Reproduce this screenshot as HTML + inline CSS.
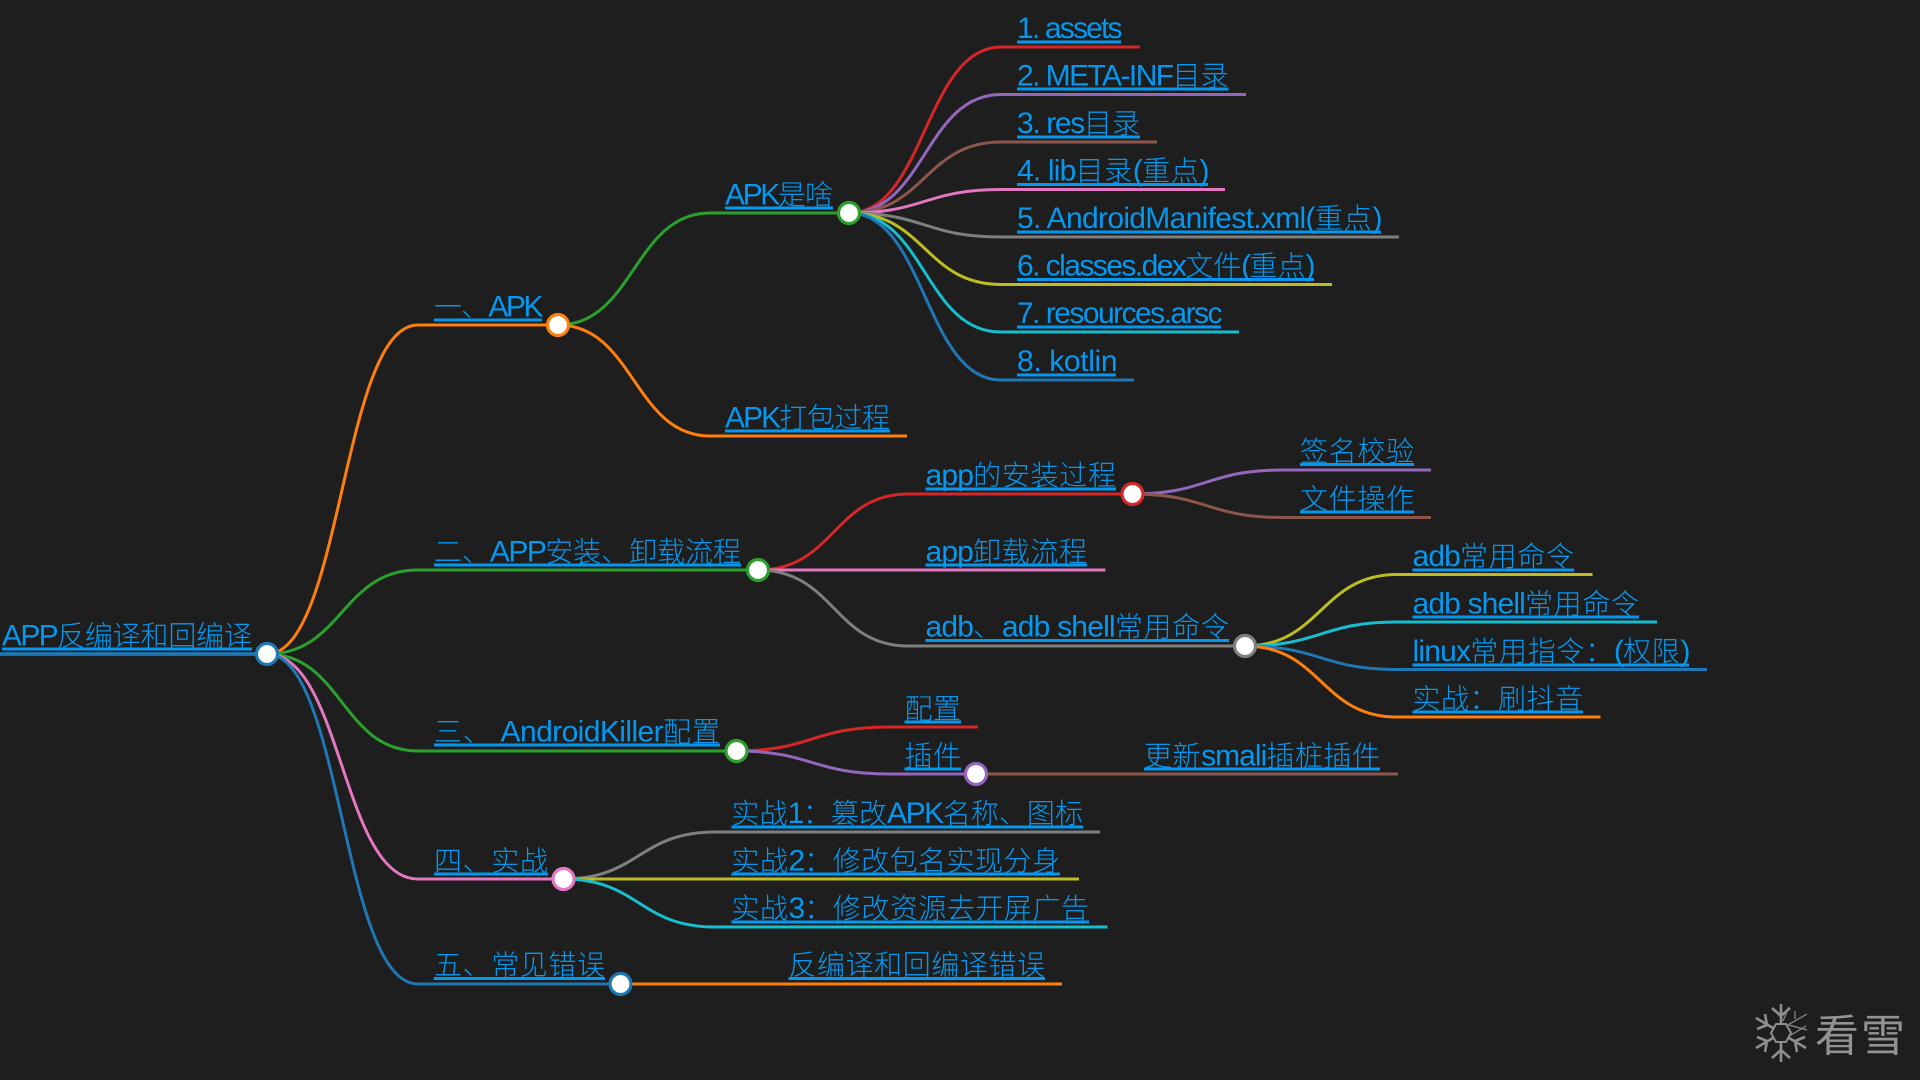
<!DOCTYPE html>
<html><head><meta charset="utf-8"><title>APP反编译和回编译</title>
<style>
html,body{margin:0;padding:0;background:#1e1e1e;width:1920px;height:1080px;overflow:hidden}
svg{display:block}
.t text{font-family:"Liberation Sans","Noto Sans CJK SC",sans-serif;font-size:28px;font-weight:300;fill:#0598f0}
.t tspan{letter-spacing:-1.5px;font-size:30px}
.u line{stroke:#0598f0;stroke-width:3}
.k path,.k line{fill:none;stroke-linecap:butt}
circle{fill:#fff;stroke-width:3.200}
</style></head><body>
<svg xmlns="http://www.w3.org/2000/svg" width="1920" height="1080" viewBox="0 0 1920 1080">
<rect width="1920" height="1080" fill="#1e1e1e"/>
<g class="u">
<line x1="2" x2="252" y1="649" y2="649"/>
<line x1="434" x2="542" y1="320" y2="320"/>
<line x1="434" x2="741" y1="565" y2="565"/>
<line x1="434" x2="720" y1="745" y2="745"/>
<line x1="434" x2="548" y1="874" y2="874"/>
<line x1="434" x2="605" y1="978.5" y2="978.5"/>
<line x1="725" x2="833" y1="208" y2="208"/>
<line x1="725" x2="890" y1="431" y2="431"/>
<line x1="1017" x2="1121" y1="42" y2="42"/>
<line x1="1017" x2="1228.5" y1="89" y2="89"/>
<line x1="1017" x2="1140" y1="137" y2="137"/>
<line x1="1017" x2="1208" y1="184.5" y2="184.5"/>
<line x1="1017" x2="1381" y1="232" y2="232"/>
<line x1="1017" x2="1314" y1="279.5" y2="279.5"/>
<line x1="1017" x2="1221" y1="327" y2="327"/>
<line x1="1017" x2="1116" y1="375" y2="375"/>
<line x1="925.5" x2="1116" y1="489" y2="489"/>
<line x1="925.5" x2="1087" y1="565" y2="565"/>
<line x1="925.5" x2="1229" y1="640.5" y2="640.5"/>
<line x1="1300" x2="1414" y1="464.5" y2="464.5"/>
<line x1="1300" x2="1414" y1="512" y2="512"/>
<line x1="1412.5" x2="1574" y1="570" y2="570"/>
<line x1="1412.5" x2="1639" y1="617" y2="617"/>
<line x1="1412.5" x2="1689" y1="665" y2="665"/>
<line x1="1412.5" x2="1583" y1="712" y2="712"/>
<line x1="904.5" x2="961" y1="722" y2="722"/>
<line x1="904.5" x2="961" y1="769" y2="769"/>
<line x1="1144" x2="1380" y1="769" y2="769"/>
<line x1="731.5" x2="1083" y1="827" y2="827"/>
<line x1="731.5" x2="1060" y1="874" y2="874"/>
<line x1="731.5" x2="1089" y1="922" y2="922"/>
<line x1="788.5" x2="1045" y1="978.5" y2="978.5"/>
</g>
<g class="k" stroke-width="3">
<path stroke="#1f77b4" stroke-width="3.800" d="M0 654H267"/>
<path stroke="#ff7f0e" d="M267 654C342 654 342 325 418 325H558"/>
<path stroke="#2ca02c" d="M267 654C342 654 342 570 418 570H758"/>
<path stroke="#2ca02c" d="M267 654C342 654 342 751 418 751H736"/>
<path stroke="#e377c2" d="M267 654C342 654 342 879 418 879H563"/>
<path stroke="#1f77b4" d="M267 654C342 654 342 984 418 984H620"/>
<path stroke="#2ca02c" d="M558 325C634 325 634 213 710 213H849"/>
<path stroke="#ff7f0e" d="M558 325C634 325 634 436 710 436H907"/>
<path stroke="#d62728" d="M849 213C925 213 925 47 1001 47H1140"/>
<path stroke="#9467bd" d="M849 213C925 213 925 94.500 1001 94.500H1246"/>
<path stroke="#8c564b" d="M849 213C925 213 925 142 1001 142H1157"/>
<path stroke="#e377c2" d="M849 213C925 213 925 189.500 1001 189.500H1225"/>
<path stroke="#7f7f7f" d="M849 213C925 213 925 237 1001 237H1399"/>
<path stroke="#bcbd22" d="M849 213C925 213 925 284.500 1001 284.500H1332"/>
<path stroke="#17becf" d="M849 213C925 213 925 332 1001 332H1239"/>
<path stroke="#1f77b4" d="M849 213C925 213 925 380 1001 380H1134"/>
<path stroke="#d62728" d="M758 570C834 570 834 494 908 494H1132"/>
<path stroke="#e377c2" d="M758 570H1105.500"/>
<path stroke="#7f7f7f" d="M758 570C834 570 834 646 908 646H1245"/>
<path stroke="#9467bd" d="M1132 494C1207 494 1207 470 1282 470H1431"/>
<path stroke="#8c564b" d="M1132 494C1207 494 1207 517.500 1282 517.500H1431"/>
<path stroke="#bcbd22" d="M1245 646C1321 646 1321 574.500 1397 574.500H1592.500"/>
<path stroke="#17becf" d="M1245 646C1321 646 1321 622 1397 622H1657"/>
<path stroke="#1f77b4" d="M1245 646C1321 646 1321 669.500 1397 669.500H1707"/>
<path stroke="#ff7f0e" d="M1245 646C1321 646 1321 717 1397 717H1600.500"/>
<path stroke="#d62728" d="M736 751C812 751 812 727 889 727H978"/>
<path stroke="#9467bd" d="M736 751C812 751 812 774 889 774H976"/>
<path stroke="#8c564b" d="M976 774H1398"/>
<path stroke="#7f7f7f" d="M563 879C639 879 639 832 715 832H1100"/>
<path stroke="#bcbd22" d="M563 879H1079"/>
<path stroke="#17becf" d="M563 879C639 879 639 927 715 927H1107.500"/>
<path stroke="#ff7f0e" d="M620 984H1062"/>
</g>
<g class="t">
<text x="2" y="645.500" textLength="250"><tspan>APP</tspan>反编译和回编译</text>
<text x="434" y="316.500" textLength="108">一、<tspan>APK</tspan></text>
<text x="434" y="561.500" textLength="307">二、<tspan>APP</tspan>安装、卸载流程</text>
<text x="434" y="741.500" textLength="286">三、 <tspan>AndroidKiller</tspan>配置</text>
<text x="434" y="870.500" textLength="114">四、实战</text>
<text x="434" y="974.500" textLength="171">五、常见错误</text>
<text x="725" y="204.500" textLength="108"><tspan>APK</tspan>是啥</text>
<text x="725" y="427.500" textLength="165"><tspan>APK</tspan>打包过程</text>
<text x="1017" y="38" textLength="104"><tspan>1. assets</tspan></text>
<text x="1017" y="85.500" textLength="211.500"><tspan>2. META-INF</tspan>目录</text>
<text x="1017" y="133" textLength="123"><tspan>3. res</tspan>目录</text>
<text x="1017" y="180.500" textLength="191"><tspan>4. lib</tspan>目录<tspan>(</tspan>重点<tspan>)</tspan></text>
<text x="1017" y="228" textLength="364"><tspan>5. AndroidManifest.xml(</tspan>重点<tspan>)</tspan></text>
<text x="1017" y="275.500" textLength="297"><tspan>6. classes.dex</tspan>文件<tspan>(</tspan>重点<tspan>)</tspan></text>
<text x="1017" y="323" textLength="204"><tspan>7. resources.arsc</tspan></text>
<text x="1017" y="371" textLength="99"><tspan>8. kotlin</tspan></text>
<text x="925.500" y="485" textLength="190.500"><tspan>app</tspan>的安装过程</text>
<text x="925.500" y="561.500" textLength="161.500"><tspan>app</tspan>卸载流程</text>
<text x="925.500" y="636.500" textLength="303.500"><tspan>adb</tspan>、<tspan>adb shell</tspan>常用命令</text>
<text x="1300" y="461" textLength="114">签名校验</text>
<text x="1300" y="508.500" textLength="114">文件操作</text>
<text x="1412.500" y="566" textLength="161.500"><tspan>adb</tspan>常用命令</text>
<text x="1412.500" y="613.500" textLength="226.500"><tspan>adb shell</tspan>常用命令</text>
<text x="1412.500" y="661" textLength="276.500"><tspan>linux</tspan>常用指令：<tspan>(</tspan>权限<tspan>)</tspan></text>
<text x="1412.500" y="708.500" textLength="170.500">实战：刷抖音</text>
<text x="904.500" y="718.500" textLength="56.500">配置</text>
<text x="904.500" y="765.500" textLength="56.500">插件</text>
<text x="1144" y="765.500" textLength="236">更新<tspan>smali</tspan>插桩插件</text>
<text x="731.500" y="823" textLength="351.500">实战<tspan>1</tspan>：篡改<tspan>APK</tspan>名称、图标</text>
<text x="731.500" y="870.500" textLength="328.500">实战<tspan>2</tspan>：修改包名实现分身</text>
<text x="731.500" y="918" textLength="357.500">实战<tspan>3</tspan>：修改资源去开屏广告</text>
<text x="788.500" y="974.500" textLength="256.500">反编译和回编译错误</text>
</g>
<circle cx="267" cy="654" r="10.500" stroke="#1f77b4"/>
<circle cx="558" cy="325" r="10.500" stroke="#ff7f0e"/>
<circle cx="758" cy="570" r="10.500" stroke="#2ca02c"/>
<circle cx="736.500" cy="751" r="10.500" stroke="#2ca02c"/>
<circle cx="563.500" cy="879" r="10.500" stroke="#e377c2"/>
<circle cx="620.500" cy="984" r="10.500" stroke="#1f77b4"/>
<circle cx="849" cy="213" r="10.500" stroke="#2ca02c"/>
<circle cx="1132.500" cy="494" r="10.500" stroke="#d62728"/>
<circle cx="1245" cy="646" r="10.500" stroke="#7f7f7f"/>
<circle cx="976" cy="774" r="10.500" stroke="#9467bd"/>
<g transform="translate(1781 1033)" fill="none" stroke="#8e8e8e" stroke-width="2.600">
<path d="M-5 -9H5L10 0L5 9H-5L-10 0Z" stroke-width="2"/>
<path d="M0 -9V-29M-9 -25L0 -17L9 -25"/>
<path d="M0 9V29M-9 25L0 17L9 25"/>
<path d="M-8 -5L-25 -15M-24 -4L-14 -8L-16 -19"/>
<path d="M-8 5L-25 15M-24 4L-14 8L-16 19"/>
<path d="M8 5L25 15M24 4L14 8L16 19"/>
<path d="M5 -7L26 -19M2 -12L8 -26M8 -8L26 -3M14 -14V-22M10 2L25 -7" stroke-width="1.200"/>
</g>
<text x="1815" y="1051" font-family="'Noto Sans CJK SC','Liberation Sans',sans-serif" font-size="44" font-weight="400" fill="#939393" textLength="90">看雪</text>
</svg>
</body></html>
